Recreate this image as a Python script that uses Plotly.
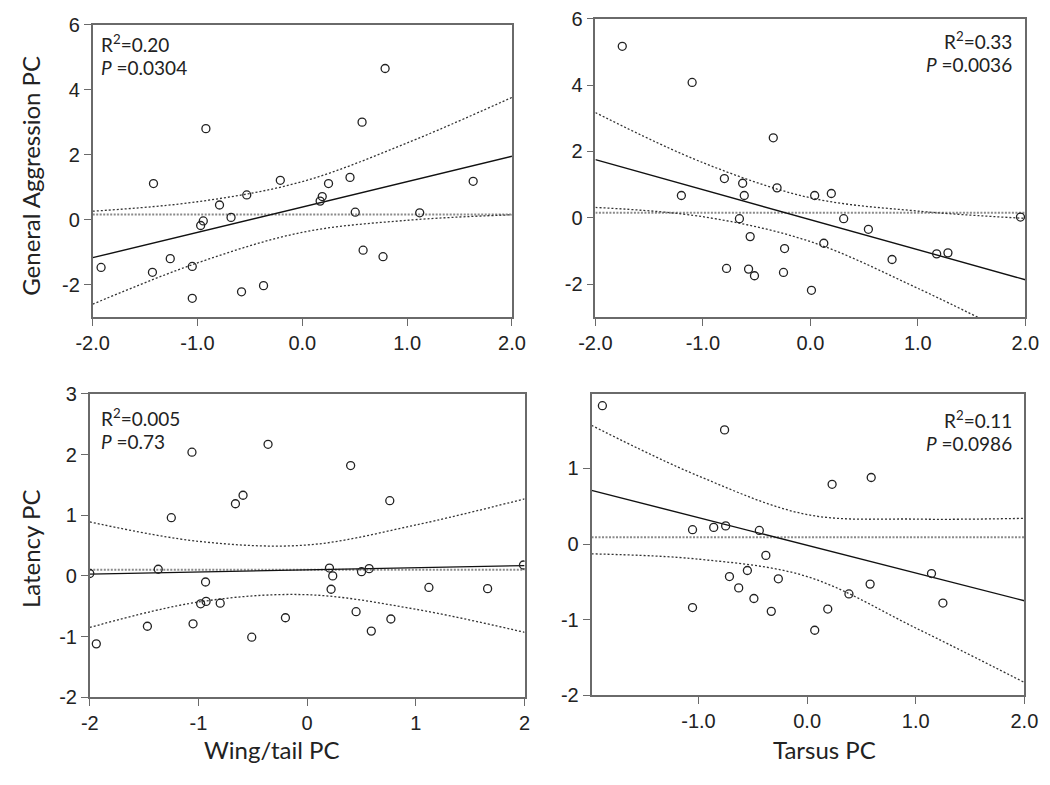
import plotly.graph_objects as go

W, H = 1050, 785

# ---------------- data ----------------
# Panel A: Wing/tail PC vs General Aggression PC
wing_x_agg = [-1.92, -1.42, -1.43, -1.26, -0.92, -1.05, -1.05, -0.97, -0.945, -0.79, -0.68, -0.53, -0.58,
              -0.37, -0.21, 0.79, 0.57, 0.25, 0.455, 0.19, 0.17, 0.505, 1.12, 1.63, 0.58, 0.77]
agg_y_wing = [-1.47, 1.11, -1.62, -1.2, 2.8, -1.44, -2.42, -0.18, -0.04, 0.45, 0.07, 0.76, -2.22,
              -2.03, 1.21, 4.65, 3.0, 1.11, 1.3, 0.71, 0.57, 0.23, 0.21, 1.18, -0.94, -1.14]

# Panel B: Tarsus PC vs General Aggression PC
tarsus_x_agg = [-1.75, -1.10, -1.20, -0.80, -0.63, -0.615, -0.66, -0.56, -0.78, -0.575, -0.52, -0.345, -0.31,
                -0.24, -0.25, 0.04, 0.195, 0.31, 0.54, 0.125, 0.01, 0.76, 1.175, 1.28, 1.955]
agg_y_tarsus = [5.17, 4.08, 0.67, 1.18, 1.04, 0.67, -0.03, -0.57, -1.53, -1.55, -1.75, 2.41, 0.9,
                -0.93, -1.65, 0.67, 0.73, -0.03, -0.35, -0.77, -2.19, -1.26, -1.09, -1.06, 0.02]

# Panel C: Wing/tail PC vs Latency PC
wing_x_lat = [-1.94, -1.47, -1.37, -1.25, -1.06, -1.05, -0.935, -0.98, -0.93, -0.80, -0.66, -0.59, -0.51,
              -0.36, -0.20, 0.40, 0.76, 0.205, 0.235, 0.22, 0.50, 0.57, 0.45, 0.59, 0.77, 1.12, 1.66, 1.99, -2.0]
lat_y_wing = [-1.12, -0.83, 0.11, 0.96, 2.04, -0.79, -0.1, -0.46, -0.42, -0.45, 1.19, 1.33, -1.01,
              2.17, -0.69, 1.82, 1.24, 0.13, 0.0, -0.22, 0.07, 0.12, -0.59, -0.91, -0.71, -0.19, -0.21, 0.18, 0.04]

# Panel D: Tarsus PC vs Latency PC
tarsus_x_lat = [-1.885, -0.76, -1.055, -0.86, -0.75, -0.44, -0.38, -0.715, -0.55, -0.63, -0.265,
                -0.49, -0.33, -1.055, 0.23, 0.59, 0.58, 0.385, 0.19, 0.07, 1.145, 1.25]
lat_y_tarsus = [1.83, 1.51, 0.19, 0.22, 0.24, 0.18, -0.15, -0.43, -0.35, -0.58, -0.46,
                -0.72, -0.89, -0.84, 0.79, 0.88, -0.53, -0.66, -0.86, -1.14, -0.39, -0.78]

# Fit lines (end points) and 95% confidence bands
fit_x_A = [-2.0, 2.0]; fit_y_A = [-1.17, 1.95]
fit_x_B = [-2.0, 2.0]; fit_y_B = [1.75, -1.87]
fit_x_C = [-2.0, 2.0]; fit_y_C = [0.03, 0.17]
fit_x_D = [-1.985, 2.0]; fit_y_D = [0.71, -0.75]

band_x_A = [-2, -1, 0, 1, 2]
band_up_A = [0.26, 0.55, 1.17, 2.36, 3.76]
band_lo_A = [-2.6, -1.33, -0.39, -0.02, 0.15]
band_x_B = [-2, -1, 0, 1, 2]
band_up_B = [3.17, 1.66, 0.6, 0.2, -0.02]
band_lo_B = [0.31, 0.03, -0.72, -2.13, -3.72]
band_x_C = [-2, -1, 0, 1, 2]
band_up_C = [0.89, 0.57, 0.51, 0.84, 1.27]
band_lo_C = [-0.85, -0.43, -0.31, -0.55, -0.93]
band_x_D = [-1.985, -1, 0, 1, 2]
band_up_D = [1.57, 0.9, 0.39, 0.33, 0.34]
band_lo_D = [-0.13, -0.2, -0.43, -1.11, -1.83]

# horizontal reference (mean) levels
mean_A, mean_B, mean_C, mean_D = 0.16, 0.15, 0.10, 0.09

# tick labels
ticks_x_decimal = ["-2.0", "-1.0", "0.0", "1.0", "2.0"]
ticks_x_int = ["-2", "-1", "0", "1", "2"]
ticks_y_agg = ["-2", "0", "2", "4", "6"]
ticks_y_lat_wing = ["-2", "-1", "0", "1", "2", "3"]
ticks_y_lat_tarsus = ["-2", "-1", "0", "1"]

stats_A = ["R<sup>2</sup>=0.20", "<i>P</i> =0.0304"]
stats_B = ["R<sup>2</sup>=0.33", "<i>P</i> =0.0036"]
stats_C = ["R<sup>2</sup>=0.005", "<i>P</i> =0.73"]
stats_D = ["R<sup>2</sup>=0.11", "<i>P</i> =0.0986"]

# ---------------- figure ----------------
fig = go.Figure()

def px2x(p):
    return p / W

def px2y(p):
    return 1 - p / H

def vals(labels):
    return [float(t) for t in labels]

panels = [
    dict(ax="", xs=wing_x_agg, ys=agg_y_wing, fx=fit_x_A, fy=fit_y_A, bx=band_x_A, bu=band_up_A, bl=band_lo_A,
         mean=mean_A, dom=(78, 510, 14, 315), xr=[-2, 2], yr=[-3, 6], xt=ticks_x_decimal, yt=ticks_y_agg),
    dict(ax="2", xs=tarsus_x_agg, ys=agg_y_tarsus, fx=fit_x_B, fy=fit_y_B, bx=band_x_B, bu=band_up_B, bl=band_lo_B,
         mean=mean_B, dom=(596, 1039, 8, 315), xr=[-2, 2], yr=[-3, 6], xt=ticks_x_decimal, yt=ticks_y_agg),
    dict(ax="3", xs=wing_x_lat, ys=lat_y_wing, fx=fit_x_C, fy=fit_y_C, bx=band_x_C, bu=band_up_C, bl=band_lo_C,
         mean=mean_C, dom=(75, 523, 394, 706), xr=[-2, 2], yr=[-2, 3], xt=ticks_x_int, yt=ticks_y_lat_wing),
    dict(ax="4", xs=tarsus_x_lat, ys=lat_y_tarsus, fx=fit_x_D, fy=fit_y_D, bx=band_x_D, bu=band_up_D, bl=band_lo_D,
         mean=mean_D, dom=(592, 1038, 394, 704), xr=[-1.985, 2.0], yr=[-2.0, 1.985],
         xt=ticks_x_decimal[1:], yt=ticks_y_lat_tarsus),
]

tick_font = dict(family="Liberation Sans, Arial, sans-serif", size=20, color="#222")
frame_col = "#6a6a6a"
layout_axes = {}

for p in panels:
    xa = "x" + p["ax"]
    ya = "y" + p["ax"]
    x0r, x1r = p["xr"]
    # mean reference line
    fig.add_trace(go.Scatter(x=[x0r, x1r], y=[p["mean"], p["mean"]], mode="lines",
                             line=dict(color="#8a8a8a", width=2, dash="2px,1.5px"),
                             xaxis=xa, yaxis=ya, showlegend=False, hoverinfo="skip"))
    # confidence bands
    for band in (p["bu"], p["bl"]):
        fig.add_trace(go.Scatter(x=p["bx"], y=band, mode="lines",
                                 line=dict(color="#333", width=1.3, dash="2px,2px", shape="spline", smoothing=1.0),
                                 xaxis=xa, yaxis=ya, showlegend=False, hoverinfo="skip"))
    # fit line
    fig.add_trace(go.Scatter(x=p["fx"], y=p["fy"], mode="lines",
                             line=dict(color="#111", width=1.4),
                             xaxis=xa, yaxis=ya, showlegend=False, hoverinfo="skip"))
    # points
    fig.add_trace(go.Scatter(x=p["xs"], y=p["ys"], mode="markers",
                             marker=dict(symbol="circle-open", size=8, color="#222", line=dict(width=1.3)),
                             xaxis=xa, yaxis=ya, showlegend=False))

    x0, x1, yt, yb = p["dom"]
    common = dict(showline=True, linecolor=frame_col, linewidth=1.6, mirror=True,
                  ticks="outside", ticklen=7, tickwidth=1.3, tickcolor=frame_col,
                  showgrid=False, zeroline=False, tickfont=tick_font, fixedrange=True)
    layout_axes["xaxis" + p["ax"]] = dict(common, domain=[px2x(x0), px2x(x1)], range=p["xr"],
                                          tickmode="array", tickvals=vals(p["xt"]), ticktext=p["xt"],
                                          anchor=ya)
    layout_axes["yaxis" + p["ax"]] = dict(common, domain=[px2y(yb), px2y(yt)], range=p["yr"],
                                          tickmode="array", tickvals=vals(p["yt"]), ticktext=p["yt"],
                                          anchor=xa)

ann_font = dict(family="Lato, 'Open Sans', sans-serif", size=19, color="#222")
title_font = dict(family="Lato, 'Open Sans', sans-serif", size=24, color="#222")

annotations = []
def add_text(text, x, y, xanchor="left", font=ann_font, angle=0):
    annotations.append(dict(text=text, x=px2x(x), y=px2y(y), xref="paper", yref="paper",
                            xanchor=xanchor, yanchor="middle", showarrow=False, font=font,
                            textangle=angle))

add_text(stats_A[0], 84, 33); add_text(stats_A[1], 84, 58)
add_text(stats_B[0], 1027, 30, "right"); add_text(stats_B[1], 1027, 55, "right")
add_text(stats_C[0], 84, 418); add_text(stats_C[1], 84, 443)
add_text(stats_D[0], 1027, 420, "right"); add_text(stats_D[1], 1027, 445, "right")

add_text("General Aggression PC", 14, 170, "center", title_font, -90)
add_text("Latency PC", 14, 553, "center", title_font, -90)
add_text("Wing/tail PC", 263, 760, "center", title_font)
add_text("Tarsus PC", 832, 760, "center", title_font)

fig.update_layout(width=W, height=H, margin=dict(l=0, r=0, t=0, b=0), autosize=False,
                  paper_bgcolor="white", plot_bgcolor="white", showlegend=False,
                  annotations=annotations, **layout_axes)

fig.write_html("out.html", config={"displayModeBar": False},
               post_script="document.body.style.margin='0';document.body.style.overflow='hidden';")
